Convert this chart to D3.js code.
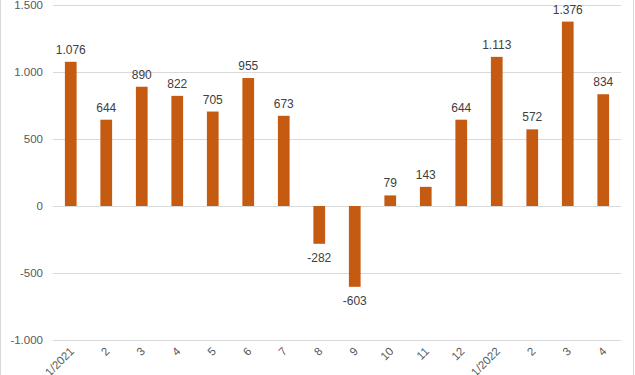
<!DOCTYPE html>
<html>
<head>
<meta charset="utf-8">
<script src="https://cdn.jsdelivr.net/npm/d3@7"></script>
<style>
  body { margin: 0; background: #fff; }
  svg { display: block; font-family: "Liberation Sans", Arial, sans-serif; }
</style>
</head>
<body>
<div id="chart"></div>
<script>
// months, jan 2021 .. apr 2022
const categories = ['1/2021', '2', '3', '4', '5', '6', '7', '8', '9', '10', '11', '12', '1/2022', '2', '3', '4']
const values = [1076, 644, 890, 822, 705, 955, 673, -282, -603, 79, 143, 644, 1113, 572, 1376, 834]
const yTicks = [-1000, -500, 0, 500, 1000, 1500]

const width = 635; const height = 375
const plotLeft = 53; const plotRight = 621; const plotTop = 5; const plotBottom = 340

// german style thousands separator, plain hyphen for negatives
const fmt = d => d3.format(',')(d).replace(/,/g, '.').replace('\u2212', '-')

const svg = d3.select('#chart').append('svg')
  .attr('width', width).attr('height', height)

// chart border (only left/right visible in crop)
svg.append('line').attr('x1', 0.5).attr('x2', 0.5).attr('y1', 0).attr('y2', height)
  .attr('stroke', '#d9d9d9')
svg.append('line').attr('x1', 633.5).attr('x2', 633.5).attr('y1', 0).attr('y2', height)
  .attr('stroke', '#d9d9d9')

const xScale = d3.scaleBand()
  .domain(d3.range(categories.length))
  .range([plotLeft, plotRight])
  .paddingInner(0.67)
  .paddingOuter(0.335)

const yScale = d3.scaleLinear()
  .domain([-1000, 1500])
  .range([plotBottom, plotTop])

// gridlines
svg.append('g')
  .selectAll('line')
  .data(yTicks)
  .enter().append('line')
  .attr('x1', plotLeft).attr('x2', plotRight)
  .attr('y1', d => Math.round(yScale(d)) + 0.5)
  .attr('y2', d => Math.round(yScale(d)) + 0.5)
  .attr('stroke', '#d9d9d9')

// y labels
svg.append('g')
  .selectAll('text')
  .data(yTicks)
  .enter().append('text')
  .attr('x', 43)
  .attr('y', d => yScale(d))
  .attr('dy', '0.35em')
  .attr('text-anchor', 'end')
  .style('font-size', '11.5px')
  .style('fill', '#595959')
  .text(fmt)

// bars
svg.append('g')
  .selectAll('rect')
  .data(values)
  .enter().append('rect')
  .attr('x', (d, i) => xScale(i))
  .attr('width', xScale.bandwidth())
  .attr('y', d => yScale(Math.max(0, d)))
  .attr('height', d => Math.abs(yScale(d) - yScale(0)))
  .style('fill', '#c55a11')

// value labels
svg.append('g')
  .selectAll('text')
  .data(values)
  .enter().append('text')
  .attr('x', (d, i) => xScale(i) + xScale.bandwidth() / 2)
  .attr('y', d => d >= 0 ? yScale(d) - 8 : yScale(d) + 18)
  .attr('text-anchor', 'middle')
  .style('font-size', '12px')
  .style('fill', '#404040')
  .text(fmt)

// x labels, rotated (first ones run off the bottom like in the original)
svg.append('g')
  .selectAll('text')
  .data(categories)
  .enter().append('text')
  .attr('transform', (d, i) => 'translate(' + (xScale(i) + xScale.bandwidth() / 2 + 4) + ',' + 352 + ') rotate(-45)')
  .attr('text-anchor', 'end')
  .style('font-size', '11.5px')
  .style('fill', '#595959')
  .text(d => d)
</script>
</body>
</html>
